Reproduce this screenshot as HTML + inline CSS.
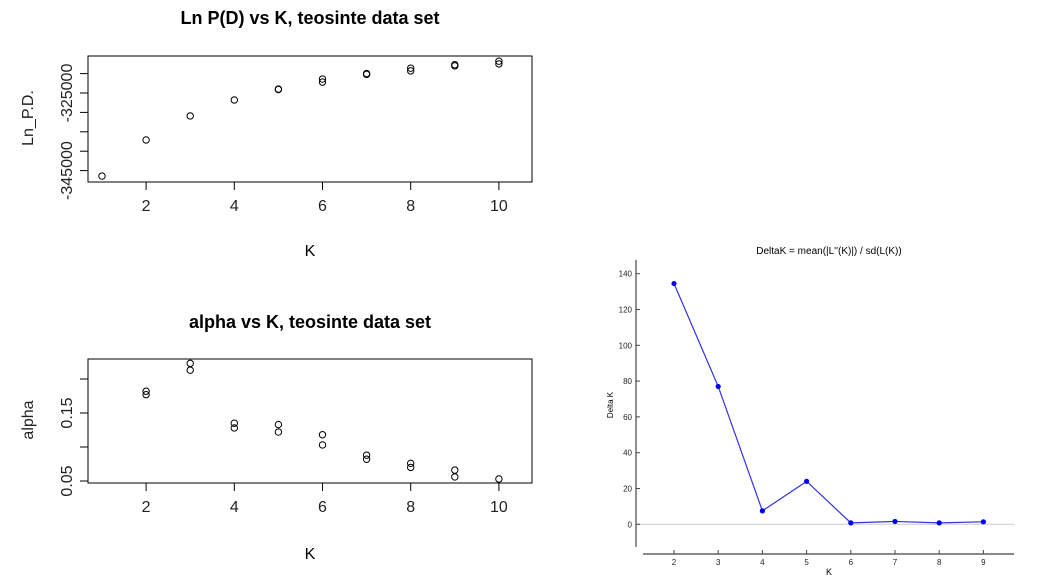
<!DOCTYPE html>
<html><head><meta charset="utf-8"><style>
html,body{margin:0;padding:0;background:#fff;}
svg{display:block;font-family:"Liberation Sans",Arial,sans-serif;}
</style></head><body>
<svg id="s" width="1040" height="587" viewBox="0 0 1040 587" xmlns="http://www.w3.org/2000/svg">
<text x="310" y="24" font-size="18" font-weight="bold" text-anchor="middle">Ln P(D) vs K, teosinte data set</text>
<text x="310" y="328" font-size="18" font-weight="bold" text-anchor="middle">alpha vs K, teosinte data set</text>
<text x="310" y="256" font-size="16" text-anchor="middle">K</text>
<text x="310" y="559" font-size="16" text-anchor="middle">K</text>
<text transform="translate(33,118) rotate(-90)" font-size="16" text-anchor="middle" fill="#222">Ln_P.D.</text>
<text transform="translate(33,420) rotate(-90)" font-size="16" text-anchor="middle" fill="#222">alpha</text>
<text x="829" y="254" font-size="10" text-anchor="middle">DeltaK = mean(|L''(K)|) / sd(L(K))</text>
<text transform="translate(613,405) rotate(-90)" font-size="8" text-anchor="middle">Delta K</text>
<text x="829" y="575" font-size="9" text-anchor="middle">K</text>
</svg>
<script>
const lnK = [1,2,3,4,5,5,6,6,7,7,8,8,9,9,10,10];
const lnVals = [-346400,-337100,-330900,-326800,-324000,-324100,-321400,-322200,-320200,-320000,-318600,-319300,-317700,-318000,-316800,-317500];
const lnTicks = [-345000,-340000,-335000,-330000,-325000,-320000];
const lnTickLabels = ["-345000","","","","-325000",""];
const xTicks = [2,4,6,8,10];
const alphaK = [2,2,3,3,4,4,5,5,6,6,7,7,8,8,9,9,10];
const alphaVals = [0.182,0.177,0.223,0.213,0.135,0.128,0.133,0.122,0.118,0.103,0.088,0.082,0.076,0.070,0.066,0.056,0.053];
const alphaTicks = [0.05,0.10,0.15,0.20];
const alphaTickLabels = ["0.05","","0.15",""];
const dkK = [2,3,4,5,6,7,8,9];
const dkVals = [134.5,77,7.5,24,0.8,1.6,0.8,1.4];
const dkTicks = [0,20,40,60,80,100,120,140];

const svg = document.getElementById('s');
const NS = 'http://www.w3.org/2000/svg';
function mk(tag, attrs){const e=document.createElementNS(NS,tag);for(const k in attrs)e.setAttribute(k,attrs[k]);svg.appendChild(e);return e;}

// R-style panels
function rPanel(prefix, top, bot, ys, yTicks, yLabels, ksArr, vals){
  const x = k => 102 + (k-1)*44.1;
  const box = mk('rect',{x:88,y:top,width:444,height:bot-top,fill:'none',stroke:'#000','stroke-width':1});
  
  
  xTicks.forEach(t=>{
    const l = mk('line',{x1:x(t),x2:x(t),y1:bot,y2:bot+8,stroke:'#000'});
    
    
    const tx = mk('text',{x:x(t),y:bot+29,'font-size':16,'text-anchor':'middle',fill:'#222'});
    tx.textContent = t;
    
    
  });
  yTicks.forEach((t,i)=>{
    const yy = ys(t);
    const l = mk('line',{x1:80,x2:88,y1:yy,y2:yy,stroke:'#000'});
    
    
    if(yLabels[i]){
      const tx = mk('text',{transform:'translate(72,'+yy+') rotate(-90)','font-size':16,'text-anchor':'middle',fill:'#222'});
      tx.textContent = yLabels[i];
      
      
    }
  });
  ksArr.forEach((k,i)=>{
    const c = mk('circle',{cx:x(k),cy:ys(vals[i]),r:3.2,fill:'none',stroke:'#000','stroke-width':1});
    
    
  });
}
rPanel('lnpd', 56, 182, v => 93 - (v+325000)*19.4/5000, lnTicks, lnTickLabels, lnK, lnVals);
rPanel('alpha', 359, 483, v => 481 - (v-0.05)*680, alphaTicks, alphaTickLabels, alphaK, alphaVals);

// Delta K panel
const dx = k => 674 + (k-2)*44.2;
const dy = v => 524.3 - v*1.79;
const la = mk('line',{x1:636,x2:636,y1:260,y2:547,stroke:'#444','stroke-width':1.2});


const ba = mk('line',{x1:643,x2:1014,y1:554,y2:554,stroke:'#444','stroke-width':1.2});


const zl = mk('line',{x1:636,x2:1014,y1:dy(0),y2:dy(0),stroke:'#ccc','stroke-width':1});


dkTicks.forEach(t=>{
  const l = mk('line',{x1:636,x2:640,y1:dy(t),y2:dy(t),stroke:'#444'});
  
  
  const tx = mk('text',{x:632,y:dy(t)+3,'font-size':8,'text-anchor':'end',fill:'#222'});
  tx.textContent = t;
  
  
});
dkK.forEach(k=>{
  const l = mk('line',{x1:dx(k),x2:dx(k),y1:550,y2:554,stroke:'#444'});
  
  
  const tx = mk('text',{x:dx(k),y:565,'font-size':8,'text-anchor':'middle',fill:'#222'});
  tx.textContent = k;
  
  
});
const line = mk('polyline',{points:dkK.map((k,i)=>dx(k)+','+dy(dkVals[i])).join(' '),fill:'none',stroke:'#3333dd','stroke-width':1.2});


dkK.forEach((k,i)=>{
  const c = mk('circle',{cx:dx(k),cy:dy(dkVals[i]),r:2.6,fill:'#0000ee'});
  
  
});
</script>
</body></html>
